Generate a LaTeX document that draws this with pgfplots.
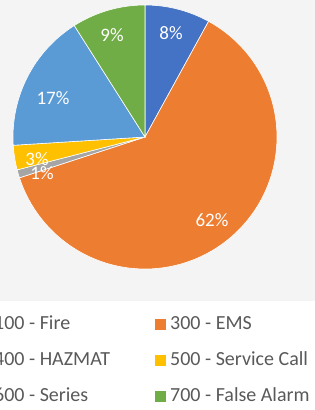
\documentclass[border=0pt]{standalone}
\usepackage{pgfplots}
\pgfplotsset{compat=1.18}
\usepackage{pgfplotstable}
\usepackage{fontspec}
\setmainfont{Carlito}
\definecolor{cFire}{HTML}{4472C4}
\definecolor{cEMS}{HTML}{ED7D31}
\definecolor{cHaz}{HTML}{A5A5A5}
\definecolor{cServ}{HTML}{FFC000}
\definecolor{cSer}{HTML}{5B9BD5}
\definecolor{cFalse}{HTML}{70AD47}
\definecolor{txt}{HTML}{595959}
\definecolor{bg}{HTML}{F4F4F4}
% share of each call type, percent
\pgfplotstableread{
type pct start end
100 8 90 61.2
300 62 61.2 -162
400 1 -162 -165.6
500 3 -165.6 -176.4
600 17 -176.4 -237.6
700 9 -237.6 -270
}\shares
\begin{document}
\begin{tikzpicture}
\clip (-145pt,-273pt) rectangle (170pt,137pt);
\useasboundingbox (-145pt,-273pt) rectangle (170pt,137pt);
\fill[bg] (-145pt,-164pt) rectangle (170pt,137pt);
\begin{axis}[
  at={(0pt,0pt)}, anchor=origin,
  x=1pt, y=1pt,
  xmin=-132, xmax=132, ymin=-132, ymax=132,
  hide axis, clip=false,
  legend columns=2,
  legend style={draw=none, fill=none, at={(axis cs:-169,-176)}, anchor=north west,
    font=\fontsize{20}{24}\selectfont, text=txt,
    nodes={inner sep=0pt, text height=14pt, text depth=4pt},
    row sep=18pt,
    /tikz/every odd column/.append style={column sep=4pt}},
  legend cell align=left,
  legend image code/.code={\fill[#1, draw=none] (0pt,-5.5pt) rectangle (11pt,5.5pt);},
]
\pgfplotsforeachungrouped \i/\c in {0/cFire,1/cEMS,2/cHaz,3/cServ,4/cSer,5/cFalse}{
  \pgfplotstablegetelem{\i}{start}\of\shares \let\sa=\pgfplotsretval
  \pgfplotstablegetelem{\i}{end}\of\shares \let\ea=\pgfplotsretval
  \edef\temp{\noexpand\addplot[fill=\c, draw=white, line width=0.6pt, domain=\sa:\ea, samples=90]
    ({132*cos(x)},{132*sin(x)}) -- (axis cs:0,0) -- cycle;}
  \temp
}
\legend{\makebox[161pt][l]{100 - Fire},300 - EMS,\makebox[161pt][l]{400 - HAZMAT},500 - Service Call,\makebox[161pt][l]{600 - Series},700 - False Alarm}
\begin{scope}[every node/.style={text=white, font=\fontsize{19}{20}\selectfont}]
\node at (axis cs:26,104) {8\%};
\node at (axis cs:-33,102) {9\%};
\node at (axis cs:-92,39) {17\%};
\node at (axis cs:-108,-22) {3\%};
\node at (axis cs:-103,-36) {1\%};
\node at (axis cs:67,-83) {62\%};
\end{scope}
\end{axis}
\end{tikzpicture}
\end{document}
